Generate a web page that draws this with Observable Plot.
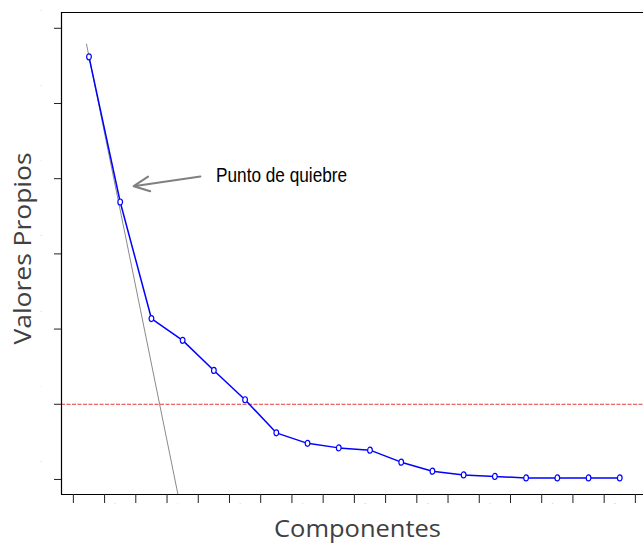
<!DOCTYPE html>
<html>
<head>
<meta charset="utf-8">
<script src="https://cdn.jsdelivr.net/npm/d3@7"></script>
<script src="https://cdn.jsdelivr.net/npm/@observablehq/plot@0.6"></script>
<style>
  html, body { margin: 0; padding: 0; background: white; }
</style>
</head>
<body>
<div id="chart"></div>
<script>
// ---- data ----
const components = [1, 2, 3, 4, 5, 6, 7, 8, 9, 10, 11, 12, 13, 14, 15, 16, 17, 18];
const eigenvalues = [5.62, 3.69, 2.14, 1.85, 1.45, 1.06, 0.62, 0.48, 0.42, 0.39, 0.23, 0.11, 0.06, 0.04, 0.02, 0.02, 0.02, 0.02];
const refLineX = [0.92, 3.85];
const refLineY = [5.79, -0.2];
const threshold = 1;
const yTicks = [0, 1, 2, 3, 4, 5, 6];
const xTicks = [0.5, 1.5, 2.5, 3.5, 4.5, 5.5, 6.5, 7.5, 8.5, 9.5, 10.5, 11.5, 12.5, 13.5, 14.5, 15.5, 16.5, 17.5, 18.5];
const xLabels = [2, 4, 6, 8, 10, 12, 14, 16, 18];
const annotation = {label: "Punto de quiebre", x1: 4.57, y1: 4.03, x2: 2.43, y2: 3.90, tx: 5.07, ty: 4.04};
const xTitle = "Componentes";
const yTitle = "Valores Propios";

const data = components.map((k, i) => ({k, v: eigenvalues[i]}));
const ref = refLineX.map((x, i) => ({x, y: refLineY[i]}));

// elliptical (slightly narrow) open marker
const ellipse = {
  draw(ctx, size) {
    const r = Math.sqrt(size / Math.PI);
    const rx = r * 0.78, ry = r, c = 0.5523;
    ctx.moveTo(rx, 0);
    ctx.bezierCurveTo(rx, ry * c, rx * c, ry, 0, ry);
    ctx.bezierCurveTo(-rx * c, ry, -rx, ry * c, -rx, 0);
    ctx.bezierCurveTo(-rx, -ry * c, -rx * c, -ry, 0, -ry);
    ctx.bezierCurveTo(rx * c, -ry, rx, -ry * c, rx, 0);
    ctx.closePath();
  }
};

const xDom = [0.12, 18.76];
const yDom = [-0.2, 6.21];

const chart = Plot.plot({
  width: 643,
  height: 545,
  marginLeft: 61,
  marginRight: 0,
  marginTop: 12,
  marginBottom: 51,
  x: {domain: xDom},
  y: {domain: yDom},
  style: {background: "white", overflow: "visible"},
  marks: [
    Plot.ruleY([threshold], {stroke: "#e23a3a", strokeWidth: 1, strokeDasharray: "4,1.5"}),
    Plot.line(ref, {x: "x", y: "y", stroke: "#8a8a8a", strokeWidth: 1}),
    Plot.line(data, {x: "k", y: "v", stroke: "#0000ff", strokeWidth: 1.5}),
    Plot.dot(data, {x: "k", y: "v", r: 3, symbol: ellipse, stroke: "#0000ff", fill: "white", strokeWidth: 1.2}),
    Plot.arrow([annotation], {x1: "x1", y1: "y1", x2: "x2", y2: "y2", stroke: "#808080", strokeWidth: 2, headLength: 13, headAngle: 50, bend: 0}),
    Plot.text([annotation], {x: "tx", y: "ty", text: "label", textAnchor: "start", lineAnchor: "middle", fontSize: 21, fontFamily: "'Liberation Sans Narrow', 'Liberation Sans', Arial, sans-serif", fill: "black", className: "punto"}),
    // frame lines
    Plot.ruleX([xDom[0]], {stroke: "black", strokeWidth: 1.2}),
    Plot.ruleY([yDom[1]], {stroke: "black", strokeWidth: 1.2}),
    Plot.ruleY([yDom[0]], {stroke: "black", strokeWidth: 1.2}),
    // ticks
    Plot.axisY(yTicks, {tickSize: 7, tickFormat: () => "", stroke: "#222"}),
    Plot.axisX(xTicks, {tickSize: 9, tickFormat: () => "", stroke: "#222"}),
    // tiny tick labels (as in the reference they are nearly invisible)
    Plot.text(yTicks, {y: d => d, frameAnchor: "left", dx: -21, dy: -18, text: d => String(d), fontSize: 1.5, fill: "#999"}),
    Plot.text(xLabels, {x: d => d, frameAnchor: "bottom", dy: 9, dx: -5, text: d => String(d), fontSize: 1.5, fill: "#999"}),
    // axis titles
    Plot.text([xTitle], {frameAnchor: "bottom", dx: 5, dy: 42, text: d => d, textAnchor: "middle", lineAnchor: "bottom", fontSize: 24, fontFamily: "'Open Sans', sans-serif", fill: "#404040", className: "xtitle"}),
    Plot.text([yTitle], {frameAnchor: "left", dx: -31, dy: -5, rotate: -90, text: d => d, textAnchor: "middle", lineAnchor: "bottom", fontSize: 24, fontFamily: "'Open Sans', sans-serif", fill: "#404040", className: "ytitle"})
  ]
});

document.getElementById("chart").appendChild(chart);

// match widths of the (horizontally condensed) reference texts
function fit(sel, len) {
  chart.querySelectorAll(sel).forEach(t => {
    t.setAttribute("textLength", len);
    t.setAttribute("lengthAdjust", "spacingAndGlyphs");
  });
}
fit(".punto text", 131);
fit(".xtitle text", 167);
fit(".ytitle text", 192);
</script>
</body>
</html>
